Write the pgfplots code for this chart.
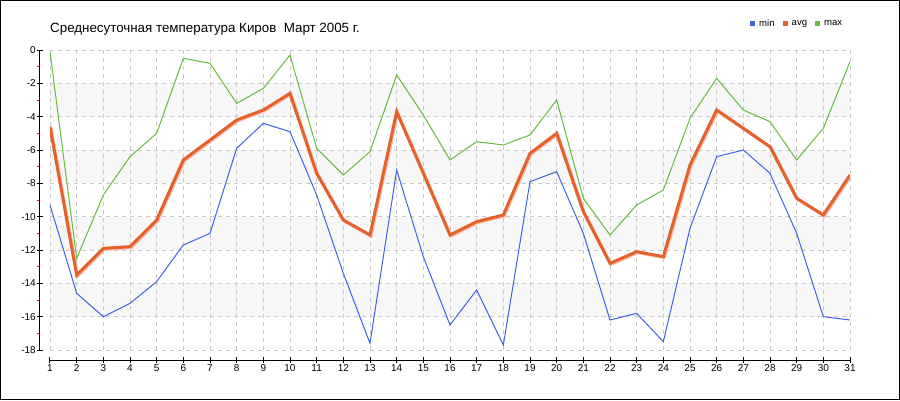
\documentclass[border=0pt]{standalone}
\usepackage{pgfplots}
\pgfplotsset{compat=1.18}
\usepackage{fontspec}
\setmainfont{Liberation Sans}
\definecolor{cmin}{RGB}{64,96,232}
\definecolor{cavg}{RGB}{230,96,44}
\definecolor{cavgs}{RGB}{246,190,170}
\definecolor{cmax}{RGB}{102,187,60}
\definecolor{band}{RGB}{247,247,247}
\definecolor{gridc}{RGB}{200,200,200}
\begin{document}
\begin{tikzpicture}
\begin{axis}[
  set layers,
  scale only axis, width=800pt, height=300pt,
  xmin=1, xmax=31, ymin=-18, ymax=0,
  axis x line=bottom, axis y line=left,
  axis x line shift=10pt, axis y line shift=10pt,
  axis line style={black, line width=1pt, -},
  /pgf/number format/assume math mode=true,
  xtick={1,...,31}, ytick={-18,-16,...,0},
  yticklabels={-18,-16,-14,-12,-10,-8,-6,-4,-2,0},
  minor y tick num=1,
  tick align=center,
  major tick length=6pt, minor tick length=3pt,
  major tick style={black, line width=1pt},
  minor tick style={red, line width=1pt, xshift=-1.5pt},
  grid=major,
  major grid style={gridc, line width=0.8pt, dash pattern=on 4pt off 4pt},
  tick label style={font=\fontsize{10}{12}\selectfont, inner sep=1pt},
  legend style={at={(axis description cs:0.875,1.0883)}, anchor=west, draw=none, fill=none,
    inner sep=0pt, font=\fontsize{9.6}{10}\selectfont, nodes={inner sep=0pt},
    /tikz/every odd column/.append style={column sep=4pt},
    /tikz/every even column/.append style={column sep=8pt}},
  legend columns=3,
  legend image code/.code={\fill[#1, draw=none] (0pt,-2.5pt) rectangle (5pt,2.5pt);},
]
\addplot[forget plot, fill=band, draw=none, on layer=axis background] coordinates {(1,-2)(31,-2)(31,-4)(1,-4)} -- cycle;
\addplot[forget plot, fill=band, draw=none, on layer=axis background] coordinates {(1,-6)(31,-6)(31,-8)(1,-8)} -- cycle;
\addplot[forget plot, fill=band, draw=none, on layer=axis background] coordinates {(1,-10)(31,-10)(31,-12)(1,-12)} -- cycle;
\addplot[forget plot, fill=band, draw=none, on layer=axis background] coordinates {(1,-14)(31,-14)(31,-16)(1,-16)} -- cycle;

\addplot[cmin, line width=1pt] table {
1 -9.3
2 -14.6
3 -16.0
4 -15.2
5 -13.9
6 -11.7
7 -11.0
8 -5.9
9 -4.4
10 -4.9
11 -8.7
12 -13.4
13 -17.6
14 -7.2
15 -12.4
16 -16.5
17 -14.4
18 -17.7
19 -7.9
20 -7.3
21 -11.0
22 -16.2
23 -15.8
24 -17.5
25 -10.7
26 -6.4
27 -6.0
28 -7.4
29 -11.0
30 -16.0
31 -16.2
};
\addplot[forget plot, cavgs, line width=3pt, xshift=1pt, yshift=-1pt] table {
1 -4.6
2 -13.5
3 -11.9
4 -11.8
5 -10.2
6 -6.6
7 -5.4
8 -4.2
9 -3.6
10 -2.6
11 -7.4
12 -10.2
13 -11.1
14 -3.7
15 -7.4
16 -11.1
17 -10.3
18 -9.9
19 -6.2
20 -5.0
21 -9.7
22 -12.8
23 -12.1
24 -12.4
25 -6.9
26 -3.6
27 -4.7
28 -5.8
29 -8.9
30 -9.9
31 -7.5
};
\addplot[cavg, line width=3pt] table {
1 -4.6
2 -13.5
3 -11.9
4 -11.8
5 -10.2
6 -6.6
7 -5.4
8 -4.2
9 -3.6
10 -2.6
11 -7.4
12 -10.2
13 -11.1
14 -3.7
15 -7.4
16 -11.1
17 -10.3
18 -9.9
19 -6.2
20 -5.0
21 -9.7
22 -12.8
23 -12.1
24 -12.4
25 -6.9
26 -3.6
27 -4.7
28 -5.8
29 -8.9
30 -9.9
31 -7.5
};
\addplot[cmax, line width=1pt] table {
1 -0.1
2 -12.5
3 -8.7
4 -6.4
5 -5.0
6 -0.5
7 -0.8
8 -3.2
9 -2.3
10 -0.3
11 -5.9
12 -7.5
13 -6.1
14 -1.5
15 -3.9
16 -6.6
17 -5.5
18 -5.7
19 -5.1
20 -3.0
21 -8.9
22 -11.1
23 -9.3
24 -8.4
25 -4.1
26 -1.7
27 -3.6
28 -4.3
29 -6.6
30 -4.7
31 -0.7
};
\legend{min,avg,max}
\end{axis}
\node[anchor=base west, font=\fontsize{13.35}{15}\selectfont, inner sep=0pt] at (0pt,317pt) {Среднесуточная температура Киров\ \ Март 2005 г.};
\draw[black, line width=1pt] (-49.5pt,-49.5pt) rectangle (849.5pt,349.5pt);
\end{tikzpicture}
\end{document}
